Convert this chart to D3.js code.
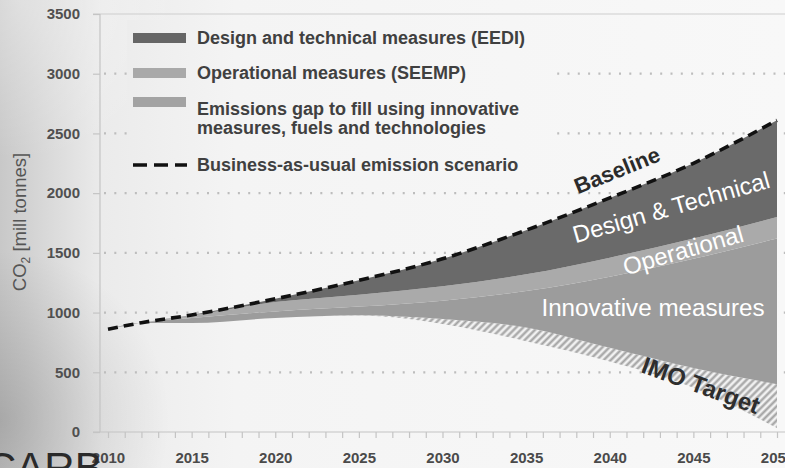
<!DOCTYPE html>
<html>
<head>
<meta charset="utf-8">
<script src="https://cdn.jsdelivr.net/npm/d3@7/dist/d3.min.js"></script>
<style>
  html, body { margin: 0; padding: 0; background: #f6f6f6; }
  svg { display: block; }
  text { font-family: "Liberation Sans", Arial, Helvetica, sans-serif; }
</style>
</head>
<body>
<svg id="chart" width="785" height="468"></svg>
<script>
// ---- data ----
const years = [2010, 2012, 2015, 2020, 2025, 2030, 2035, 2040, 2045, 2050];
const baseline = [860, 915, 980, 1115, 1270, 1450, 1690, 1960, 2250, 2610];
const designLower = [860, 915, 975, 1088, 1150, 1220, 1320, 1460, 1620, 1800];
const operationalLower = [860, 914, 955, 1010, 1050, 1100, 1180, 1300, 1450, 1620];
const innovativeLower = [860, 912, 912, 955, 978, 946, 875, 705, 536, 400];
const imoTarget = [860, 912, 912, 955, 975, 905, 760, 590, 370, 33];

const yTicks = [0, 500, 1000, 1500, 2000, 2500, 3000, 3500];
const xTickLabels = [2010, 2015, 2020, 2025, 2030, 2035, 2040, 2045, 2050];
const legendLabels = [
  ["Design and technical measures (EEDI)"],
  ["Operational measures (SEEMP)"],
  ["Emissions gap to fill using innovative", "measures, fuels and technologies"],
  ["Business-as-usual emission scenario"]
];
const areaLabels = ["Baseline", "Design & Technical", "Operational", "Innovative measures", "IMO Target"];
const yTitle = "CO";
const yTitleSub = "2";
const yTitleRest = " [mill tonnes]";
const logoText = "CARB";

// ---- layout ----
const W = 785, H = 468;
const svg = d3.select("#chart");
const x = d3.scaleLinear().domain([2010, 2050]).range([108, 777]);
const y = d3.scaleLinear().domain([0, 3500]).range([432, 14]);

const defs = svg.append("defs");
const bg = defs.append("linearGradient").attr("id", "bg")
  .attr("gradientUnits", "userSpaceOnUse").attr("x1", 0).attr("y1", 0).attr("x2", W).attr("y2", 0);
[[0, "#c8c8c8"], [0.06, "#d9d9d9"], [0.13, "#ebebeb"], [0.3, "#f4f4f4"], [1, "#f8f8f8"]]
  .forEach(([o, c]) => bg.append("stop").attr("offset", o).attr("stop-color", c));
const blob = defs.append("radialGradient").attr("id", "blob")
  .attr("gradientUnits", "userSpaceOnUse").attr("cx", 0).attr("cy", 420).attr("r", 170);
blob.append("stop").attr("offset", 0).attr("stop-color", "#000").attr("stop-opacity", 0.16);
blob.append("stop").attr("offset", 1).attr("stop-color", "#000").attr("stop-opacity", 0);
const topl = defs.append("radialGradient").attr("id", "topl")
  .attr("gradientUnits", "userSpaceOnUse").attr("cx", 20).attr("cy", 0).attr("r", 160);
topl.append("stop").attr("offset", 0).attr("stop-color", "#fff").attr("stop-opacity", 0.35);
topl.append("stop").attr("offset", 1).attr("stop-color", "#fff").attr("stop-opacity", 0);

const hatch = defs.append("pattern").attr("id", "hatch")
  .attr("patternUnits", "userSpaceOnUse").attr("width", 5).attr("height", 5)
  .attr("patternTransform", "rotate(45)");
hatch.append("rect").attr("width", 5).attr("height", 5).attr("fill", "#f1f1f1");
hatch.append("line").attr("x1", 1.5).attr("y1", 0).attr("x2", 1.5).attr("y2", 5)
  .attr("stroke", "#a2a2a2").attr("stroke-width", 2.2);

svg.append("rect").attr("width", W).attr("height", H).attr("fill", "url(#bg)");
svg.append("rect").attr("width", W).attr("height", H).attr("fill", "url(#blob)");
svg.append("rect").attr("width", W).attr("height", H).attr("fill", "url(#topl)");

// gridlines (dotted)
svg.append("g").selectAll("line").data(yTicks.filter(v => v > 0 && v < 3500)).join("line")
  .attr("x1", 104).attr("x2", W).attr("y1", d => y(d)).attr("y2", d => y(d))
  .attr("stroke", "#bdbdbd").attr("stroke-width", 2.2)
  .attr("stroke-dasharray", "2,8.3").attr("stroke-linecap", "butt");

// frame lines
svg.append("line").attr("x1", 93).attr("x2", W).attr("y1", y(3500)).attr("y2", y(3500))
  .attr("stroke", "#cdcdcd").attr("stroke-width", 1.2);
svg.append("line").attr("x1", 100).attr("x2", 100).attr("y1", y(3500)).attr("y2", y(0))
  .attr("stroke", "#c4c4c4").attr("stroke-width", 1.2);

// y axis
const yAxis = svg.append("g").attr("transform", "translate(100,0)")
  .call(d3.axisLeft(y).tickValues(yTicks).tickSize(7).tickPadding(13).tickFormat(d3.format("d")));
yAxis.select(".domain").remove();
yAxis.selectAll(".tick line").attr("stroke", "#c4c4c4").attr("stroke-width", 1.2);
yAxis.selectAll(".tick text").attr("fill", "#505050").attr("font-size", 15)
  .attr("font-weight", "bold").attr("font-family", "'Liberation Sans', Arial, sans-serif");

// x axis
const xAxis = svg.append("g").attr("transform", `translate(0,${y(0)})`)
  .call(d3.axisBottom(x).tickValues(d3.range(2010, 2051)).tickSize(6).tickPadding(14)
    .tickFormat(d => xTickLabels.includes(d) ? d : ""));
xAxis.select(".domain").attr("d", `M93,0H${W}`).attr("stroke", "#c4c4c4").attr("stroke-width", 1.2);
xAxis.selectAll(".tick line").attr("stroke", "#c4c4c4").attr("stroke-width", 1.2);
xAxis.selectAll(".tick text").attr("fill", "#4a4a4a").attr("font-size", 15)
  .attr("font-weight", "bold").attr("font-family", "'Liberation Sans', Arial, sans-serif");

// areas
const rows = years.map((yr, i) => ({
  yr, b: baseline[i], d: designLower[i], o: operationalLower[i], n: innovativeLower[i], t: imoTarget[i]
}));
const curve = d3.curveMonotoneX;
const band = (top, bot) => d3.area().curve(curve).x(r => x(r.yr)).y0(r => y(r[bot])).y1(r => y(r[top]));
svg.append("path").datum(rows).attr("d", band("n", "t")).attr("fill", "url(#hatch)");
svg.append("path").datum(rows).attr("d", band("o", "n")).attr("fill", "#9c9c9c");
svg.append("path").datum(rows).attr("d", band("d", "o")).attr("fill", "#aaaaaa");
svg.append("path").datum(rows).attr("d", band("b", "d")).attr("fill", "#6a6a6a");

// baseline dashed line
svg.append("path").datum(rows)
  .attr("d", d3.line().curve(curve).x(r => x(r.yr)).y(r => y(r.b)))
  .attr("fill", "none").attr("stroke", "#111").attr("stroke-width", 3.6)
  .attr("stroke-dasharray", "10,6");

// legend
svg.append("rect").attr("x", 127).attr("y", 20).attr("width", 425).attr("height", 162)
  .attr("fill", "url(#bg)");
const swatchColors = ["#666666", "#a9a9a9", "#a3a3a3"];
const swY = [33, 68, 97];
swY.forEach((sy, i) => {
  svg.append("rect").attr("x", 133).attr("y", sy).attr("width", 53).attr("height", 10)
    .attr("fill", swatchColors[i]);
});
svg.append("line").attr("x1", 133).attr("x2", 187).attr("y1", 165).attr("y2", 165)
  .attr("stroke", "#111").attr("stroke-width", 3.6).attr("stroke-dasharray", "14,7");
const legTextY = [[38], [73], [109, 128], [165]];
legendLabels.forEach((lines, i) => {
  lines.forEach((t, j) => {
    svg.append("text").attr("x", 197).attr("y", legTextY[i][j]).attr("dy", "0.36em")
      .attr("font-size", 18).attr("font-weight", "bold").attr("fill", "#404040").text(t);
  });
});

// area labels
const lab = (t, cx, cy, rot, size, weight, fill) =>
  svg.append("text").attr("transform", `translate(${cx},${cy}) rotate(${rot})`)
    .attr("text-anchor", "middle").attr("dy", "0.36em")
    .attr("font-size", size).attr("font-weight", weight).attr("fill", fill).text(t);
lab(areaLabels[0], 617, 170, -22, 22, "bold", "#2b2b2b");
lab(areaLabels[1], 671, 207, -16, 24, "normal", "#ffffff");
lab(areaLabels[2], 683, 250, -16, 24, "normal", "#ffffff");
lab(areaLabels[3], 653, 307, 0, 24.2, "normal", "#ffffff");
lab(areaLabels[4], 701, 385, 20, 24, "bold", "#2e2e2e");

// y title
const yt = svg.append("text").attr("transform", "translate(26,222) rotate(-90)")
  .attr("text-anchor", "middle").attr("font-size", 18.5).attr("fill", "#555");
yt.append("tspan").text(yTitle);
yt.append("tspan").attr("font-size", 12).attr("dy", 4).text(yTitleSub);
yt.append("tspan").attr("dy", -4).text(yTitleRest);

// logo text
svg.append("text").attr("x", -14).attr("y", 482).attr("font-size", 42)
  .attr("fill", "#2a2a2a").text(logoText);
</script>
</body>
</html>
